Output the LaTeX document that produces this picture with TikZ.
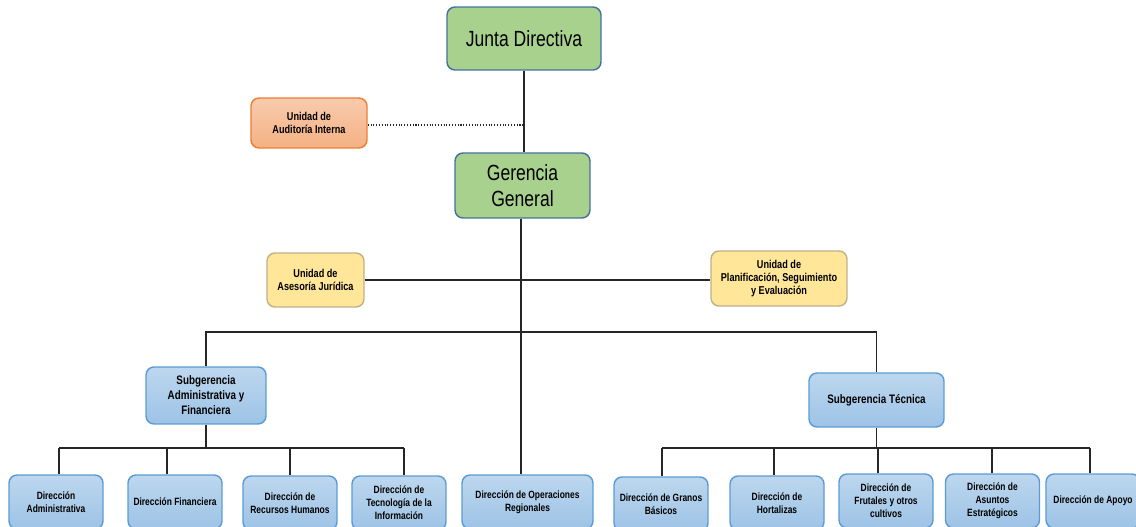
\documentclass[tikz,border=0pt]{standalone}
\usepackage{fontspec}
\setmainfont{Liberation Sans}[FakeStretch=0.8]
\usepackage{tikz}

\definecolor{verde}{HTML}{A9D18E}
\definecolor{verdeborde}{HTML}{41719C}
\definecolor{naranjaA}{HTML}{F8CBAD}
\definecolor{naranjaB}{HTML}{F4B183}
\definecolor{naranjaborde}{HTML}{ED7D31}
\definecolor{amarillo}{HTML}{FFE699}
\definecolor{amarilloborde}{HTML}{BFB08A}
\definecolor{azulA}{HTML}{BDD7EE}
\definecolor{azulB}{HTML}{9DC3E6}
\definecolor{azulborde}{HTML}{5B9BD5}
\definecolor{linea}{HTML}{262626}

\begin{document}
\begin{tikzpicture}[x = .02cm, y = -.02cm,
	caja/.style = {shape = rectangle, rounded corners = .16cm, line width = .8pt, align = center, inner sep = 1pt},
	verdecaja/.style = {caja, draw = verdeborde, fill = verde, font = \fontsize{12.5}{14.5}\selectfont},
	naranjacaja/.style = {caja, draw = naranjaborde, top color = naranjaA, bottom color = naranjaB, font = \bfseries\fontsize{6.5}{7.5}\selectfont},
	amarillocaja/.style = {caja, draw = amarilloborde, fill = amarillo, font = \bfseries\fontsize{6.5}{7.5}\selectfont},
	subcaja/.style = {caja, draw = azulborde, top color = azulA, bottom color = azulB, font = \bfseries\fontsize{7}{8.5}\selectfont},
	dircaja/.style = {caja, draw = azulborde, top color = azulA, bottom color = azulB, font = \bfseries\fontsize{6}{7.5}\selectfont, minimum width = 1.88cm, minimum height = 1.08cm},
	conector/.style = {draw = linea, line width = .6pt}]
	\useasboundingbox (0, 0) rectangle (1136, 527);
	\node (jd) at (524, 38.5) [verdecaja, minimum width = 3.08cm, minimum height = 1.26cm] {Junta Directiva};
	\node (aud) at (309, 123) [naranjacaja, minimum width = 2.32cm, minimum height = 1cm] {Unidad de\\Auditoría Interna};
	\node (gg) at (522.5, 185.5) [verdecaja, minimum width = 2.7cm, minimum height = 1.3cm] {Gerencia\\General};
	\node (aj) at (315.5, 280) [amarillocaja, minimum width = 1.94cm, minimum height = 1.08cm] {Unidad de\\Asesoría Jurídica};
	\node (pse) at (779, 278.5) [amarillocaja, minimum width = 2.72cm, minimum height = 1.1cm] {Unidad de\\Planificación, Seguimiento\\y Evaluación};
	\node (saf) at (206, 395.5) [subcaja, minimum width = 2.4cm, minimum height = 1.14cm] {Subgerencia\\Administrativa y\\Financiera};
	\node (st) at (876.5, 400) [subcaja, minimum width = 2.7cm, minimum height = 1.08cm] {Subgerencia Técnica};
	\node (da) at (56, 502) [dircaja] {Dirección\\Administrativa};
	\node (df) at (175, 502) [dircaja] {Dirección Financiera};
	\node (drh) at (290, 503) [dircaja] {Dirección de\\Recursos Humanos};
	\node (dti) at (399, 503) [dircaja] {Dirección de\\Tecnología de la\\Información};
	\node (dor) at (527.5, 502) [dircaja, minimum width = 2.62cm] {Dirección de Operaciones\\Regionales};
	\node (dgb) at (661, 504) [dircaja] {Dirección de Granos\\Básicos};
	\node (dh) at (777, 503) [dircaja] {Dirección de\\Hortalizas};
	\node (dfr) at (886, 501) [dircaja] {Dirección de\\Frutales y otros\\cultivos};
	\node (dae) at (992.5, 501) [dircaja] {Dirección de\\Asuntos\\Estratégicos};
	\node (dap) at (1093, 501) [dircaja] {Dirección de Apoyo};

	\coordinate (bus) at (0, 332);
	\coordinate (a1) at (59, 448);
	\coordinate (a2) at (167, 448);
	\coordinate (a3) at (290, 448);
	\coordinate (a4) at (404, 448);
	\coordinate (t1) at (662, 448);
	\coordinate (t2) at (774, 448);
	\coordinate (t3) at (878, 448);
	\coordinate (t4) at (992, 448);
	\coordinate (t5) at (1090, 448);

	\draw[conector] (jd.south) -- (jd.south |- gg.north);
	\draw[conector, densely dotted, line width = .8pt] (aud.east |- 0, 125) -- (jd.south |- 0, 125);
	\draw[conector] (gg.south -| 521, 0) -- (dor.north -| 521, 0);
	\draw[conector] (aj.east) -- (aj.east -| pse.west);
	\draw[conector] (saf.north) |- (bus -| st.north) -- (st.north);

	\draw[conector] (saf.south) -- (saf.south |- a1);
	\draw[conector] (a1) -- (a4);
	\foreach \c/\d in {a1/da, a2/df, a3/drh, a4/dti}
		\draw[conector] (\c) -- (\c |- \d.north);

	\draw[conector] (st.south) -- (st.south |- t1);
	\draw[conector] (t1) -- (t5);
	\foreach \c/\d in {t1/dgb, t2/dh, t3/dfr, t4/dae, t5/dap}
		\draw[conector] (\c) -- (\c |- \d.north);
\end{tikzpicture}
\end{document}
